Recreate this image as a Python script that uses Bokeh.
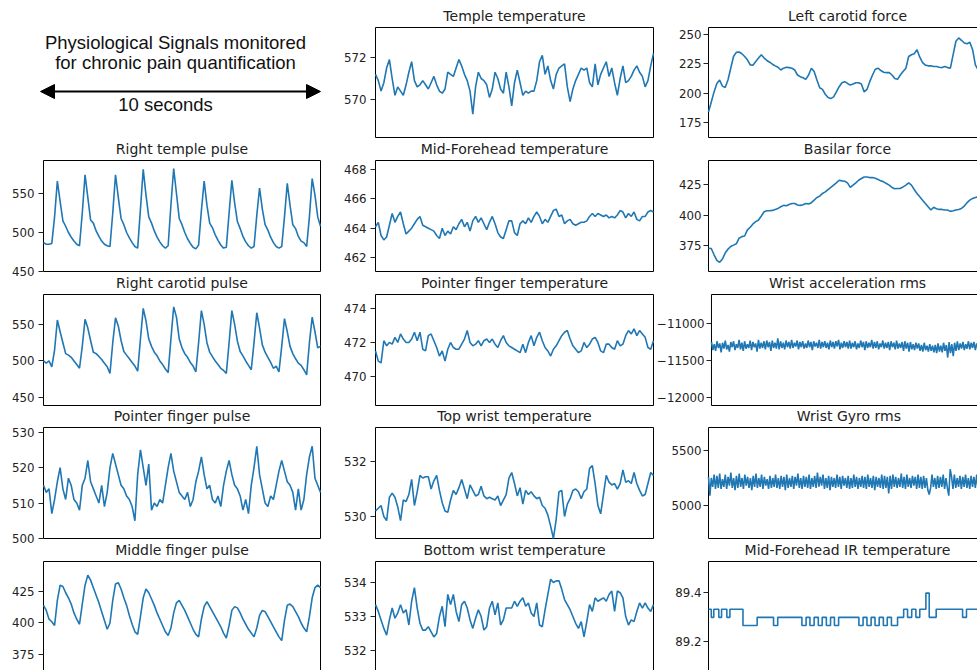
import numpy as np
from bokeh.plotting import figure
from bokeh.layouts import column, row
from bokeh.models import Range1d, FixedTicker, Arrow, NormalHead
from bokeh.embed import file_html
from bokeh.resources import INLINE
from bokeh.core.properties import value

HEADING = ["Physiological Signals monitored", "for chronic pain quantification"]
SCALE_LABEL = "10 seconds"
DURATION = 10.0

# ---------------- data (seconds on x) ----------------
right_temple_pulse = [
    487, 485, 485, 486, 520, 566, 540, 515, 508, 500,
    494, 489, 485, 483, 525, 574, 545, 516, 512, 502,
    495, 489, 485, 483, 482, 525, 574, 545, 518, 510,
    500, 493, 487, 482, 480, 530, 581, 548, 520, 512,
    502, 494, 488, 483, 480, 483, 535, 582, 550, 518,
    510, 500, 492, 486, 481, 479, 484, 528, 566, 535,
    512, 506, 497, 490, 484, 480, 481, 525, 567, 538,
    514, 505, 495, 488, 483, 480, 482, 522, 557, 530,
    510, 503, 494, 487, 482, 480, 482, 520, 563, 535,
    510, 505, 495, 489, 487, 482, 520, 569, 548, 520,
    508]
right_carotid_pulse = [
    500, 497, 500, 492, 515, 556, 540, 525, 510, 508,
    505, 500, 495, 490, 520, 557, 545, 528, 512, 510,
    506, 502, 497, 492, 483, 525, 559, 548, 528, 513,
    508, 503, 498, 493, 486, 530, 572, 555, 530, 520,
    512, 507, 500, 495, 489, 484, 530, 574, 560, 530,
    518, 510, 505, 498, 493, 485, 525, 569, 550, 525,
    512, 506, 500, 495, 490, 487, 483, 525, 569, 550,
    527, 513, 507, 500, 494, 488, 525, 566, 545, 522,
    512, 505, 498, 490, 493, 485, 520, 558, 540, 520,
    510, 503, 497, 494, 488, 481, 525, 560, 540, 518,
    520]
pointer_finger_pulse = [
    515, 513, 514, 507, 511, 516, 520, 514, 511, 517,
    515, 511, 510, 508, 515, 517, 522, 516, 514, 512,
    510, 515, 509, 513, 520, 524, 521, 518, 515, 514,
    512, 511, 509, 505, 518, 525, 520, 515, 521, 508,
    510, 509, 511, 510, 515, 520, 524, 519, 516, 513,
    512, 511, 513, 509, 511, 516, 519, 523, 518, 514,
    515, 511, 510, 512, 509, 515, 519, 522, 518, 515,
    514, 512, 508, 511, 507, 515, 520, 526, 518, 514,
    510, 509, 512, 511, 515, 519, 522, 519, 516, 515,
    513, 508, 514, 508, 511, 518, 523, 526, 517, 515,
    513]
middle_finger_pulse = [
    414, 410, 403, 401, 398, 418, 430, 429, 424, 420,
    415, 408, 403, 399, 415, 430, 438, 434, 428, 422,
    416, 409, 402, 395, 400, 418, 431, 432, 427, 420,
    414, 406, 399, 393, 391, 405, 420, 427, 424, 419,
    414, 408, 403, 398, 393, 390, 396, 408, 416, 418,
    414, 410, 405, 400, 395, 391, 389, 403, 413, 417,
    413, 409, 405, 401, 397, 392, 388, 398, 410, 413,
    412, 408, 403, 399, 395, 392, 389, 396, 406, 410,
    409, 405, 401, 397, 393, 389, 386, 402, 414, 415,
    413, 409, 405, 400, 396, 393, 405, 420, 428, 430,
    428]
temple_temperature = [
    571.2, 570.9, 570.4, 570.8, 571.5, 571.9, 571.0, 570.2, 570.6, 570.4,
    570.2, 570.7, 571.3, 571.8, 570.9, 570.6, 570.7, 570.9, 570.7, 570.5,
    570.8, 571.1, 570.7, 570.4, 570.3, 570.5, 571.3, 571.2, 571.1, 571.5,
    571.9, 571.6, 571.2, 570.9, 570.4, 569.3, 570.6, 571.3, 571.0, 570.9,
    570.7, 570.1, 570.5, 571.3, 571.0, 570.5, 570.3, 571.3, 570.6, 569.7,
    570.8, 571.4, 570.8, 570.2, 570.4, 570.3, 570.4, 570.4, 570.9, 571.8,
    572.1, 571.2, 571.6, 570.9, 570.5, 571.2, 571.5, 571.6, 571.7, 570.6,
    569.9, 570.5, 570.9, 571.2, 571.5, 571.4, 571.5, 570.8, 570.6, 571.7,
    570.7, 571.2, 571.5, 571.8, 571.1, 571.5, 570.8, 570.2, 571.0, 571.6,
    570.8, 570.9, 571.1, 571.4, 571.6, 571.3, 571.1, 570.6, 570.9, 571.6,
    572.2]
mid_forehead_temperature = [
    464.1, 464.4, 463.5, 463.2, 463.4, 464.2, 465.0, 464.4, 464.8, 465.1,
    464.3, 463.6, 463.8, 464.0, 464.3, 464.6, 464.8, 464.2, 464.1, 464.0,
    463.9, 463.8, 463.5, 463.3, 464.0, 463.5, 463.8, 463.6, 464.1, 463.9,
    464.3, 464.6, 464.1, 464.4, 463.8, 464.5, 464.8, 464.4, 464.7, 464.3,
    463.9, 464.4, 464.8, 464.3, 463.7, 463.4, 463.3, 463.9, 464.5, 464.5,
    463.7, 463.5, 464.3, 464.5, 464.3, 464.7, 464.4, 464.8, 465.1, 464.8,
    464.3, 464.6, 464.4, 464.8, 465.2, 465.3, 464.8, 464.9, 464.3, 464.5,
    464.6, 464.3, 464.2, 464.3, 464.4, 464.4, 464.5, 464.8, 465.0, 464.8,
    465.0, 464.9, 464.8, 464.9, 464.7, 464.8, 464.7, 464.9, 465.2, 465.1,
    464.7, 465.0, 464.8, 465.1, 464.6, 464.5, 464.8, 464.8, 465.1, 465.2,
    465.1]
pointer_finger_temperature = [
    471.5, 470.9, 470.8, 472.1, 471.8, 472.0, 471.9, 472.3, 472.0, 472.5,
    472.2, 472.0, 472.0, 472.2, 472.6, 472.1, 472.6, 471.6, 471.5, 472.4,
    472.5, 472.1, 471.7, 471.2, 471.5, 470.9, 471.6, 472.0, 471.7, 471.6,
    471.6, 471.9, 472.2, 472.7, 472.0, 471.8, 471.9, 472.1, 471.8, 472.1,
    472.2, 472.0, 472.2, 471.9, 471.7, 472.1, 472.4, 472.0, 471.8, 471.7,
    471.6, 471.5, 471.4, 471.9, 471.4, 472.0, 472.4, 471.8, 472.3, 472.6,
    472.1, 471.7, 471.5, 471.2, 471.6, 471.8, 472.1, 472.4, 472.6, 472.7,
    472.2, 471.8, 471.6, 471.4, 471.5, 472.0, 471.7, 471.9, 472.2, 472.3,
    472.0, 471.5, 471.4, 471.9, 471.9, 471.7, 471.6, 472.1, 471.8, 471.9,
    472.4, 472.7, 472.5, 472.8, 472.4, 472.7, 472.5, 472.3, 471.7, 471.6,
    472.1]
top_wrist_temperature = [
    530.2, 530.3, 530.4, 530.0, 529.85, 530.7, 530.85, 530.7, 530.35, 529.85,
    530.6, 530.55, 530.8, 531.35, 530.4, 530.9, 531.5, 531.4, 531.45, 531.45,
    531.0, 531.3, 531.5, 530.95, 530.5, 530.2, 530.15, 530.6, 530.95, 530.8,
    531.05, 531.35, 531.0, 530.65, 531.15, 530.95, 530.75, 530.8, 531.1, 530.75,
    530.65, 530.7, 530.65, 530.6, 530.75, 530.4, 530.6, 530.8, 531.4, 531.6,
    531.2, 530.75, 531.05, 530.45, 530.95, 530.8, 530.9, 530.75, 530.65, 530.7,
    530.4, 530.3, 530.05, 529.65, 529.2, 529.9, 530.9, 530.95, 530.0, 530.45,
    530.65, 530.95, 531.0, 530.9, 530.65, 530.9, 531.0, 531.75, 531.85, 531.2,
    530.4, 530.1, 530.8, 531.5, 531.25, 531.15, 531.2, 531.0, 531.2, 531.7,
    531.25, 531.3, 531.2, 531.6, 531.2, 530.95, 530.75, 530.8, 531.2, 531.6,
    531.5]
bottom_wrist_temperature = [
    533.35, 533.15, 532.9, 532.65, 532.45, 532.9, 533.25, 532.95, 533.1, 533.35,
    533.1, 533.2, 532.75, 533.45, 533.85, 533.25, 532.8, 532.6, 532.6, 532.7,
    532.55, 532.4, 532.5, 533.0, 533.3, 532.7, 533.65, 533.35, 533.65, 533.15,
    532.85, 533.35, 533.45, 533.25, 532.9, 532.65, 532.95, 533.2, 533.0, 532.6,
    532.7, 533.25, 533.45, 533.05, 533.4, 532.75, 532.9, 533.25, 533.25, 533.25,
    533.45, 533.3, 533.45, 533.55, 533.3, 533.4, 533.1, 533.0, 533.4, 532.75,
    532.7, 533.2, 533.65, 534.1, 534.0, 534.05, 534.05, 533.8, 533.5, 533.35,
    533.2, 533.0, 532.8, 532.65, 532.85, 532.4, 532.85, 533.35, 533.15, 533.55,
    533.45, 533.5, 533.55, 533.45, 533.65, 533.75, 533.15, 533.75, 533.7, 533.55,
    533.0, 532.75, 532.9, 532.85, 533.15, 533.4, 533.25, 533.4, 533.25, 533.15,
    533.35]
left_carotid_force = [
    183.9, 192.5, 201.1, 208.3, 211.2, 206.0, 204.9, 211.2, 221.3, 231.3,
    234.8, 235.1, 233.6, 231.3, 228.4, 224.1, 223.9, 227.0, 229.9, 232.8,
    229.9, 227.9, 226.4, 224.7, 223.3, 222.1, 219.8, 221.3, 222.1, 221.8,
    221.3, 219.8, 215.5, 214.1, 213.2, 211.8, 215.5, 221.3, 218.4, 211.2,
    204.6, 203.2, 199.1, 196.3, 195.4, 196.8, 201.1, 205.5, 208.9, 209.8,
    208.3, 206.9, 207.8, 208.9, 208.9, 207.8, 201.1, 203.2, 209.8, 215.5,
    220.4, 221.3, 219.3, 217.8, 217.5, 217.5, 215.5, 212.6, 211.8, 215.5,
    218.4, 221.3, 231.3, 232.8, 233.6, 237.1, 230.7, 226.1, 223.9, 223.3,
    223.3, 222.7, 222.7, 222.1, 221.8, 222.7, 221.8, 221.3, 232.8, 244.3,
    247.1, 245.1, 242.8, 242.2, 243.4, 237.1, 224.1, 219.8, 221.3, 222.7,
    223.3]
basilar_force = [
    372.8, 372.6, 367.4, 362.8, 361.2, 363.9, 368.8, 372.0, 374.2, 375.3,
    376.4, 381.0, 382.3, 382.8, 387.8, 390.0, 392.7, 394.6, 395.9, 399.2,
    402.7, 403.5, 403.5, 403.8, 404.6, 405.4, 406.8, 407.9, 407.6, 408.7,
    409.5, 409.5, 408.2, 407.9, 408.4, 409.5, 409.0, 410.1, 412.2, 414.4,
    415.5, 417.7, 419.0, 420.9, 422.6, 424.5, 426.4, 428.5, 428.0, 427.7,
    426.4, 422.6, 424.5, 426.4, 428.5, 429.9, 431.2, 431.2, 430.7, 430.7,
    430.2, 429.1, 428.0, 427.2, 425.8, 424.5, 422.6, 421.5, 421.7, 421.7,
    423.1, 424.5, 426.4, 424.5, 420.9, 417.7, 414.9, 412.2, 409.5, 406.8,
    404.1, 406.3, 405.2, 404.6, 404.6, 404.1, 404.1, 403.0, 403.5, 404.1,
    404.6, 405.4, 407.3, 410.1, 412.2, 413.6, 414.4, 414.9, 414.4, 413.6,
    412.8]
wrist_acceleration_rms = [
    -11250, -11360, -11280, -11370, -11240, -11330, -11270, -11390, -11260, -11340,
    -11230, -11350, -11290, -11380, -11250, -11320, -11240, -11360, -11280, -11330,
    -11220, -11350, -11260, -11370, -11240, -11340, -11280, -11330, -11230, -11360,
    -11250, -11320, -11270, -11380, -11220, -11340, -11260, -11330, -11240, -11350,
    -11230, -11320, -11250, -11370, -11230, -11330, -11260, -11340, -11200, -11350,
    -11240, -11330, -11260, -11350, -11230, -11320, -11250, -11340, -11220, -11330,
    -11260, -11310, -11230, -11350, -11250, -11320, -11240, -11340, -11270, -11330,
    -11230, -11320, -11250, -11360, -11240, -11310, -11260, -11330, -11220, -11340,
    -11250, -11320, -11240, -11330, -11260, -11350, -11230, -11320, -11250, -11340,
    -11240, -11310, -11220, -11350, -11260, -11330, -11240, -11320, -11250, -11340,
    -11230, -11340, -11260, -11320, -11240, -11350, -11270, -11330, -11230, -11320,
    -11250, -11360, -11240, -11330, -11260, -11320, -11220, -11340, -11250, -11330,
    -11240, -11350, -11270, -11320, -11230, -11340, -11260, -11330, -11250, -11360,
    -11240, -11320, -11260, -11350, -11230, -11340, -11270, -11330, -11250, -11370,
    -11240, -11340, -11260, -11380, -11250, -11350, -11280, -11360, -11260, -11340,
    -11270, -11370, -11290, -11380, -11260, -11360, -11300, -11380, -11280, -11370,
    -11300, -11390, -11290, -11400, -11270, -11380, -11300, -11390, -11260, -11370,
    -11290, -11460, -11250, -11400, -11280, -11440, -11260, -11370, -11240, -11360,
    -11270, -11340, -11250, -11360, -11280, -11340, -11240, -11350, -11260, -11330,
    -11250, -11360, -11270, -11340, -11240, -11350, -11260, -11330, -11250, -11340]
wrist_gyro_rms = [
    5260, 5090, 5250, 5170, 5280, 5150, 5270, 5160, 5290, 5150,
    5240, 5170, 5280, 5150, 5260, 5180, 5300, 5160, 5250, 5140,
    5270, 5160, 5290, 5170, 5250, 5150, 5280, 5180, 5260, 5160,
    5250, 5140, 5270, 5170, 5290, 5160, 5250, 5170, 5280, 5150,
    5260, 5180, 5240, 5150, 5270, 5160, 5250, 5170, 5280, 5160,
    5250, 5150, 5270, 5170, 5260, 5140, 5280, 5160, 5250, 5170,
    5270, 5150, 5260, 5180, 5290, 5160, 5250, 5150, 5270, 5170,
    5260, 5160, 5280, 5150, 5250, 5170, 5270, 5160, 5300, 5170,
    5260, 5180, 5280, 5150, 5250, 5160, 5270, 5140, 5260, 5170,
    5250, 5160, 5280, 5170, 5260, 5150, 5270, 5180, 5250, 5160,
    5270, 5150, 5250, 5160, 5280, 5170, 5260, 5150, 5250, 5170,
    5270, 5160, 5260, 5150, 5280, 5170, 5250, 5160, 5270, 5140,
    5260, 5170, 5250, 5160, 5280, 5150, 5270, 5160, 5260, 5110,
    5270, 5150, 5280, 5170, 5260, 5160, 5250, 5170, 5290, 5160,
    5260, 5150, 5280, 5170, 5250, 5160, 5270, 5180, 5260, 5150,
    5280, 5160, 5260, 5150, 5270, 5160, 5250, 5140, 5100, 5160,
    5280, 5170, 5250, 5150, 5270, 5160, 5260, 5170, 5280, 5150,
    5250, 5160, 5090, 5330, 5260, 5150, 5280, 5160, 5250, 5170,
    5270, 5150, 5260, 5170, 5280, 5160, 5250, 5150, 5270, 5170,
    5260, 5160, 5280, 5150, 5250, 5170, 5270, 5160, 5260, 5170]
ir_change_times = [0.00, 0.10, 0.19, 0.37, 0.47, 0.66, 0.77, 1.24, 1.75, 2.34,
                   2.49, 3.36, 3.51, 3.65, 3.80, 3.95, 4.09, 4.24, 4.39, 4.53,
                   4.68, 5.41, 5.56, 5.70, 5.85, 5.99, 6.14, 6.29, 6.43, 6.58,
                   6.80, 7.02, 7.16, 7.31, 7.46, 7.60, 7.82, 7.94, 8.19, 9.14,
                   9.28, 10.0]
ir_levels = [89.332, 89.299, 89.332, 89.299, 89.332, 89.299, 89.332, 89.266, 89.299, 89.266,
             89.299, 89.266, 89.299, 89.266, 89.299, 89.266, 89.299, 89.266, 89.299, 89.266,
             89.299, 89.266, 89.299, 89.266, 89.299, 89.266, 89.299, 89.266, 89.299, 89.266,
             89.299, 89.332, 89.299, 89.332, 89.299, 89.332, 89.398, 89.299, 89.332, 89.299,
             89.332, 89.332]

# y-limits and ticks of each panel
panels = [
    # (title, series, ylim, ticks, col, row)
    ("Temple temperature", temple_temperature, (568.19, 573.43), [570, 572], 1, 0),
    ("Left carotid force", left_carotid_force, (162.2, 256.0), [175, 200, 225, 250], 2, 0),
    ("Right temple pulse", right_temple_pulse, (450.0, 592.3), [450, 500, 550], 0, 1),
    ("Mid-Forehead temperature", mid_forehead_temperature, (461.05, 468.61), [462, 464, 466, 468], 1, 1),
    ("Basilar force", basilar_force, (353.7, 444.7), [375, 400, 425], 2, 1),
    ("Right carotid pulse", right_carotid_pulse, (439.0, 591.0), [450, 500, 550], 0, 2),
    ("Pointer finger temperature", pointer_finger_temperature, (468.29, 474.82), [470, 472, 474], 1, 2),
    ("Wrist acceleration rms", wrist_acceleration_rms, (-12108, -10608), [-12000, -11500, -11000], 2, 2),
    ("Pointer finger pulse", pointer_finger_pulse, (500.0, 531.3), [500, 510, 520, 530], 0, 3),
    ("Top wrist temperature", top_wrist_temperature, (529.2, 533.24), [530, 532], 1, 3),
    ("Wrist Gyro rms", wrist_gyro_rms, (4700, 5709), [5000, 5500], 2, 3),
    ("Middle finger pulse", middle_finger_pulse, (362.3, 448.8), [375, 400, 425], 0, 4),
    ("Bottom wrist temperature", bottom_wrist_temperature, (531.41, 534.62), [532, 533, 534], 1, 4),
    ("Mid-Forehead IR temperature", None, (89.082, 89.527), [89.2, 89.4], 2, 4),
]

# ---------------- layout geometry (pixels) ----------------
# column: canvas width, left border, box width, px from box-left to canvas right
COLS = [dict(w=322, border=41, left=43, box=277, right=279, standoff=4),
        dict(w=332, border=51, left=53, box=278, right=279, standoff=4),
        dict(w=323, border=52, left=54, box=278, right=269, standoff=2)]
# row: px above box, box height, px below box (the strip below holds the next row's titles)
ROWS = [dict(top=27, box=110, bottom=21),
        dict(top=2, box=111, bottom=21),
        dict(top=2, box=111, bottom=20),
        dict(top=2, box=111, bottom=21),
        dict(top=2, box=109, bottom=0)]
TITLE_RISE = 11.5  # title centre above its box, px
PAD = 2
LINE = "#1f77b4"
INK = "#222222"
TITLE_STYLE = dict(text_font=value("DejaVu Sans"), text_font_size="14px",
                   text_align="center", text_baseline="middle", text_color=INK)


def make_panel(series, ylim, ticks, c, r):
    C, R = COLS[c], ROWS[r]
    lo, hi = ylim
    sy = (hi - lo) / R["box"]
    sx = DURATION / C["box"]
    H = R["top"] + R["box"] + R["bottom"]
    p = figure(width=C["w"], height=H,
               x_range=Range1d(-PAD * sx, C["right"] * sx),
               y_range=Range1d(lo - R["bottom"] * sy, hi + R["top"] * sy),
               x_axis_location=None, y_axis_location="left",
               toolbar_location=None, tools="", output_backend="svg",
               min_border_left=C["border"], min_border_right=0,
               min_border_top=0, min_border_bottom=0, title=None)
    p.grid.visible = False
    p.outline_line_color = None
    p.background_fill_color = "white"
    p.border_fill_color = "white"
    bottom = lo if r < 4 else lo - 30 * sy
    p.quad(left=[0], right=[DURATION], bottom=[bottom], top=[hi],
           fill_color=None, line_color="black", line_width=1)
    ax = p.yaxis[0]
    ax.ticker = FixedTicker(ticks=ticks)
    ax.major_tick_in = PAD
    ax.major_tick_out = 3
    ax.minor_tick_line_color = None
    ax.axis_line_color = None
    ax.major_tick_line_color = INK
    ax.major_label_text_font = "DejaVu Sans"
    ax.major_label_text_font_size = "11.8px"
    ax.major_label_text_color = INK
    ax.major_label_standoff = C["standoff"]
    neg = {tk: str(tk).replace("-", "\u2212") for tk in ticks if tk < 0}
    if neg:
        ax.major_label_overrides = neg
    if series is None:
        p.step(ir_change_times, ir_levels, mode="after", line_color=LINE, line_width=1.6)
    else:
        x = np.linspace(0, DURATION, len(series))
        p.line(x, series, line_color=LINE, line_width=1.6)
    p.tags = [lo, hi, sy]
    return p


grid = {}
for title, series, ylim, ticks, c, r in panels:
    grid[(c, r)] = make_panel(series, ylim, ticks, c, r)

# heading cell (top-left): coordinates are pixels of this cell, y downwards
H0 = ROWS[0]["top"] + ROWS[0]["box"] + ROWS[0]["bottom"]
tp = figure(width=COLS[0]["w"], height=H0, x_range=Range1d(0, COLS[0]["w"]),
            y_range=Range1d(H0, 0), x_axis_location=None, y_axis_location=None,
            toolbar_location=None, tools="", output_backend="svg",
            min_border_left=0, min_border_right=0, min_border_top=0, min_border_bottom=0,
            title=None)
tp.grid.visible = False
tp.outline_line_color = None
tp.text(x=[175, 175], y=[42, 62], text=HEADING, text_font=value("Liberation Sans"),
        text_font_size="18.5px", text_align="center", text_baseline="middle", text_color="#111111")
tp.text(x=[165], y=[104], text=[SCALE_LABEL], text_font=value("Liberation Sans"),
        text_font_size="18.5px", text_align="center", text_baseline="middle", text_color="#111111")
tp.add_layout(Arrow(start=NormalHead(size=14, fill_color="black", line_color="black"),
                    end=NormalHead(size=14, fill_color="black", line_color="black"),
                    x_start=40, y_start=91, x_end=320, y_end=91,
                    line_width=2, line_color="black"))
grid[(0, 0)] = tp

# panel titles: row 0 titles sit in their own top strip; the others are drawn in
# the strip below the box of the panel above (same column)
for title, series, ylim, ticks, c, r in panels:
    if r == 0:
        lo, hi, sy = grid[(c, r)].tags
        grid[(c, r)].text(x=[DURATION / 2], y=[hi + TITLE_RISE * sy], text=[title], **TITLE_STYLE)
        continue
    gap = ROWS[r - 1]["bottom"] + ROWS[r]["top"]
    host = grid[(c, r - 1)]
    if host is tp:
        box_top = ROWS[0]["top"] + ROWS[0]["box"] + gap
        host.text(x=[COLS[0]["left"] + COLS[0]["box"] / 2], y=[box_top - TITLE_RISE],
                  text=[title], **TITLE_STYLE)
    else:
        lo, hi, sy = host.tags
        host.text(x=[DURATION / 2], y=[lo - (gap - TITLE_RISE) * sy], text=[title], **TITLE_STYLE)

layout = column(*[row(*[grid[(c, r)] for c in range(3)]) for r in range(5)])

open("out.html", "w").write(file_html(layout, INLINE))
